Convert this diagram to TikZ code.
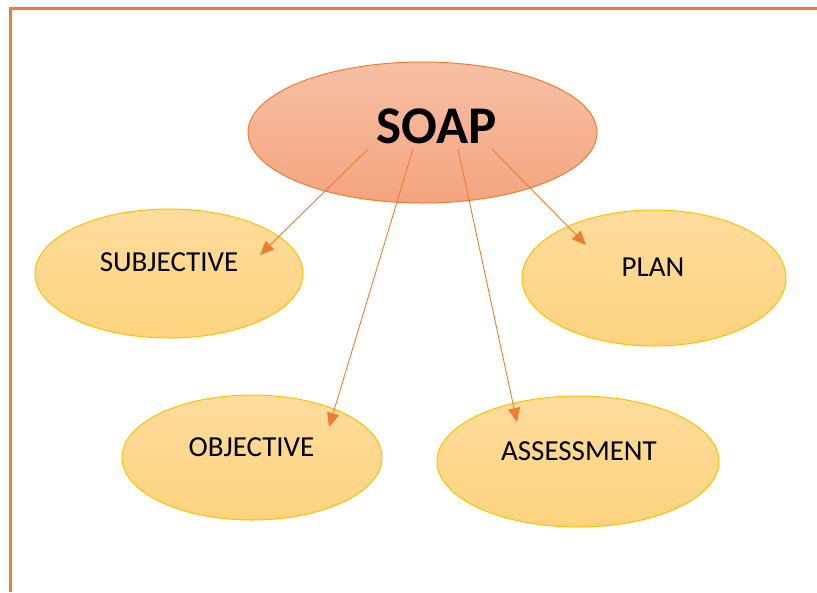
\documentclass[tikz,border=0pt]{standalone}
\usepackage{fontspec}
\setmainfont{Carlito}
\usetikzlibrary{arrows.meta,shapes.geometric}
\definecolor{frameorange}{HTML}{ED7D31}
\definecolor{goldline}{HTML}{FFC000}
\definecolor{peachtop}{HTML}{F7C0A6}
\definecolor{peachbot}{HTML}{F4A47E}
\definecolor{creamtop}{HTML}{FEDC9D}
\definecolor{creambot}{HTML}{FDD37E}
\begin{document}
\begin{tikzpicture}[x=1pt,y=-1pt,
    bubble/.style={ellipse,draw=goldline,line width=1pt,inner sep=0pt,top color=creamtop,bottom color=creambot},
    word/.style={anchor=base,font=\fontsize{29}{31}\selectfont},
    link/.style={frameorange,line width=0.9pt,-{Triangle[length=14pt,width=12pt]}}]
  \useasboundingbox (0,0) rectangle (817,592);
  \draw[frameorange,line width=3pt] (10,592) -- (10,8) -- (817,8);
  % centre
  \node[bubble,draw=frameorange,top color=peachtop,bottom color=peachbot,minimum width=349pt,minimum height=141pt] (soap) at (422.5,132.5) {};
  \node[anchor=base,font=\fontsize{53}{55}\selectfont\bfseries] (soapT) at (436.5,143) {SOAP};
  % the four parts
  \node[bubble,minimum width=268pt,minimum height=129pt] (subj) at (169,273.5) {};
  \node[bubble,minimum width=264pt,minimum height=136pt] (plan) at (654,278) {};
  \node[bubble,minimum width=260pt,minimum height=125pt] (obj) at (252,457.5) {};
  \node[bubble,minimum width=282pt,minimum height=131pt] (assess) at (578,461.5) {};
  \node[word] (subjT) at (169,271.5) {SUBJECTIVE};
  \node[word] (planT) at (653,276.5) {PLAN};
  \node[word] (objT) at (251.5,456) {OBJECTIVE};
  \node[word] (assessT) at (579,460) {ASSESSMENT};
  \draw[link] ([shift={(-54.5,16.5)}]soap.center) -- ([shift={(91,-18.5)}]subj.center);
  \draw[link] ([shift={(-9.5,16.5)}]soap.center) -- ([shift={(77,-30.5)}]obj.center);
  \draw[link] ([shift={(35.5,16.5)}]soap.center) -- ([shift={(-61,-39.5)}]assess.center);
  \draw[link] ([shift={(69.5,16.5)}]soap.center) -- ([shift={(-68,-33)}]plan.center);
\end{tikzpicture}
\end{document}
